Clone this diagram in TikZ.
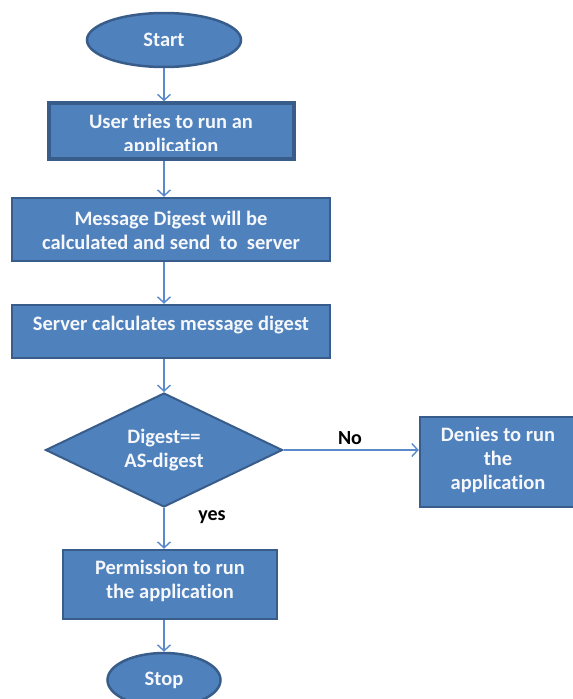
\documentclass[tikz,border=0pt]{standalone}
\usepackage{fontspec}
\setmainfont{Carlito}[Ligatures=NoCommon]
\usetikzlibrary{shapes.geometric,arrows.meta}
\definecolor{boxfill}{HTML}{4F81BD}
\definecolor{boxline}{HTML}{385D8A}
\definecolor{flow}{HTML}{5A8ACB}
\tikzset{
  box/.style={rectangle, fill=boxfill, draw=boxline, line width=2.5pt, inner sep=0pt},
  oval/.style={ellipse, fill=boxfill, draw=boxline, line width=2.5pt, inner sep=0pt},
  choice/.style={diamond, fill=boxfill, draw=boxline, line width=2pt, inner sep=0pt, shape aspect=2.08},
  txt/.style={text=white!94!boxfill, font=\fontsize{20.5}{24}\selectfont\bfseries, align=center, inner sep=0pt},
  lbl/.style={text=black, font=\fontsize{20}{24}\selectfont\bfseries, inner sep=0pt},
  arr/.style={draw=flow, line width=1.4pt, -{Straight Barb[length=6pt,width=13pt,line width=1.4pt]}},
}
\begin{document}
\begin{tikzpicture}[x=1pt,y=-1pt]
\clip (0,0) rectangle (573,699);
\fill[white] (0,0) rectangle (573,699);

% terminals and process boxes
\node[oval, minimum width=154, minimum height=54] (start) at (164,40) {};
\node[txt] (starttxt) at (start.center) {Start};

\node[box, line width=3.5pt, minimum width=245, minimum height=56] (b1) at (171.5,131) {};
\begin{scope}
  \clip (52,105) rectangle (292,150.5);
  \node[txt] (b1txt) at (171,134.5) {User tries to run an\\application};
\end{scope}

\node[box, minimum width=318, minimum height=63] (b2) at (171,229.5) {};
\node[txt] (b2txt) at (171,230) {Message Digest will be\\calculated and send\ \ to\ \ server};

\node[box, minimum width=318, minimum height=53] (b3) at (171,331.5) {};
\node[txt] (b3txt) at (171,325) {Server calculates message digest};

% decision
\node[choice, minimum width=237, minimum height=114] (d) at (164,450) {};
\node[txt] (dtxt) at (164,450.5) {Digest==\\AS-digest};

\node[box, minimum width=158, minimum height=90] (deny) at (499,462) {};
\node[txt] (denytxt) at (498,459.5) {Denies to run\\the\\application};

\node[box, minimum width=214, minimum height=69] (b4) at (170,584.5) {};
\node[txt] (b4txt) at (170,581) {Permission to run\\the application};

\node[oval, minimum width=113, minimum height=54] (stop) at (164,680) {};
\node[txt] (stoptxt) at (164,680) {Stop};

% connectors
\draw[arr] (start.south) -- (start.south |- b1.north);
\draw[arr] (start.south |- b1.south) -- (start.south |- b2.north);
\draw[arr] (start.south |- b2.south) -- (start.south |- b3.north);
\draw[arr] (d.north |- b3.south) -- (d.north);
\draw[arr] (d.east) -- (d.east -| deny.west);
\draw[arr] (d.south) -- (d.south |- b4.north);
\draw[arr] (stop.north |- b4.south) -- (stop.north);

% branch labels
\node[lbl] (nolbl) at (350,438) {No};
\node[lbl] (yeslbl) at (212,517) {yes};
\end{tikzpicture}
\end{document}
